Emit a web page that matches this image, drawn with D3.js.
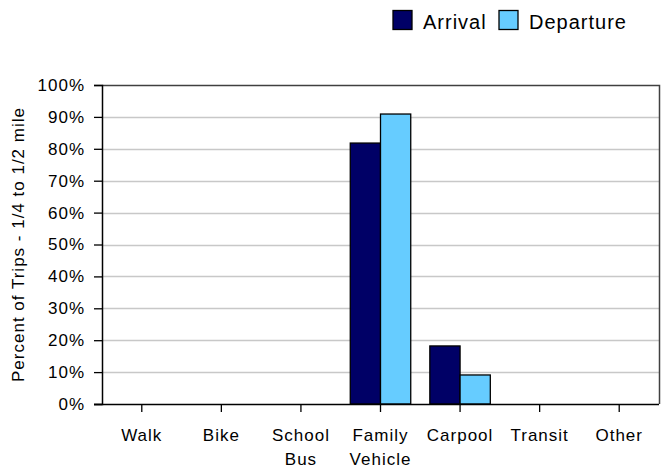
<!DOCTYPE html>
<html>
<head>
<meta charset="utf-8">
<script src="https://cdn.jsdelivr.net/npm/d3@7"></script>
<style>
  html, body { margin: 0; padding: 0; background: #fff; }
  svg { display: block; font-family: "Liberation Sans", Arial, sans-serif; }
</style>
</head>
<body>
<svg id="chart" width="663" height="474"></svg>
<script>
const categories = ["Walk", "Bike", "School Bus", "Family Vehicle", "Carpool", "Transit", "Other"];
const seriesNames = ["Arrival", "Departure"];
const arrival = [0, 0, 0, 81.8, 18.2, 0, 0];
const departure = [0, 0, 0, 90.9, 9.1, 0, 0];
const yTicks = [0, 10, 20, 30, 40, 50, 60, 70, 80, 90, 100];
const colors = ["#000066", "#66ccff"];
const yTitle = "Percent of Trips - 1/4 to 1/2 mile";

const svg = d3.select("#chart");
const pLeft = 102, pRight = 659, pTop = 85, pBottom = 404;
const FONT = "Liberation Sans, Arial, sans-serif";

const x = d3.scaleBand().domain(categories).range([pLeft, pRight]).paddingInner(0.24).paddingOuter(0.12);
const xs = d3.scaleBand().domain(seriesNames).range([0, x.bandwidth()]);
const y = d3.scaleLinear().domain([0, 100]).range([pBottom, pTop]);

// plot area
svg.append("rect").attr("x", pLeft).attr("y", pTop).attr("width", pRight - pLeft).attr("height", pBottom - pTop)
  .attr("fill", "#fff").attr("stroke", "none");

// gridlines
svg.append("g").selectAll("line").data(yTicks.filter(t => t > 0 && t < 100)).join("line")
  .attr("x1", pLeft).attr("x2", pRight)
  .attr("y1", d => Math.round(y(d)) + 0.5).attr("y2", d => Math.round(y(d)) + 0.5)
  .attr("stroke", "#c8c8c8").attr("stroke-width", 1.5);

// plot border (top/right)
svg.append("path")
  .attr("d", `M${pLeft},${pTop + 0.5}H${pRight + 0.5}V${pBottom}`)
  .attr("fill", "none").attr("stroke", "#404040").attr("stroke-width", 1.5);

// bars
const rows = categories.map((c, i) => ({ cat: c, vals: [arrival[i], departure[i]] }));
const g = svg.append("g");
rows.forEach(r => {
  r.vals.forEach((v, j) => {
    if (v <= 0) return;
    g.append("rect")
      .attr("x", x(r.cat) + xs(seriesNames[j]))
      .attr("y", y(v))
      .attr("width", xs.bandwidth())
      .attr("height", y(0) - y(v))
      .attr("fill", colors[j])
      .attr("stroke", "#000").attr("stroke-width", 1.3);
  });
});

// y axis
const yAxis = d3.axisLeft(y).tickValues(yTicks).tickFormat(d => d + "%").tickSize(8).tickPadding(9);
const ya = svg.append("g").attr("transform", `translate(${pLeft},0)`).call(yAxis);
ya.select(".domain").attr("stroke", "#000").attr("stroke-width", 1.5);
ya.selectAll(".tick line").attr("stroke", "#000").attr("stroke-width", 1.3);
ya.selectAll(".tick text").attr("font-size", 17).attr("font-family", FONT)
  .attr("letter-spacing", 1).attr("fill", "#000");

// x axis
const xAxis = d3.axisBottom(x).tickSize(8).tickFormat("");
const xa = svg.append("g").attr("transform", `translate(0,${pBottom})`).call(xAxis);
xa.select(".domain").attr("d", `M${pLeft - 8},0.5H${pRight}`).attr("stroke", "#000").attr("stroke-width", 1.5);
xa.selectAll(".tick line").attr("stroke", "#000").attr("stroke-width", 1.3);
xa.selectAll(".tick").each(function(d) {
  const words = d.split(" ");
  const t = d3.select(this).append("text").attr("fill", "#000").attr("font-size", 17)
    .attr("letter-spacing", 1).attr("text-anchor", "middle").attr("font-family", FONT);
  words.forEach((w, i) => {
    t.append("tspan").attr("x", 0).attr("y", 37 + i * 24).text(w);
  });
});

// y title
svg.append("text")
  .attr("transform", `translate(24,${(pTop + pBottom) / 2}) rotate(-90)`)
  .attr("text-anchor", "middle").attr("font-size", 17).attr("letter-spacing", 1).attr("fill", "#000")
  .text(yTitle);

// legend
const legend = svg.append("g");
const legX = [393, 499];
seriesNames.forEach((s, i) => {
  legend.append("rect").attr("x", legX[i]).attr("y", 10.5).attr("width", 19).attr("height", 19)
    .attr("fill", colors[i]).attr("stroke", "#000").attr("stroke-width", 1.3);
  legend.append("text").attr("x", legX[i] + 30).attr("y", 29).attr("font-size", 20)
    .attr("letter-spacing", 1).attr("fill", "#000")
    .text(s);
});
</script>
</body>
</html>
